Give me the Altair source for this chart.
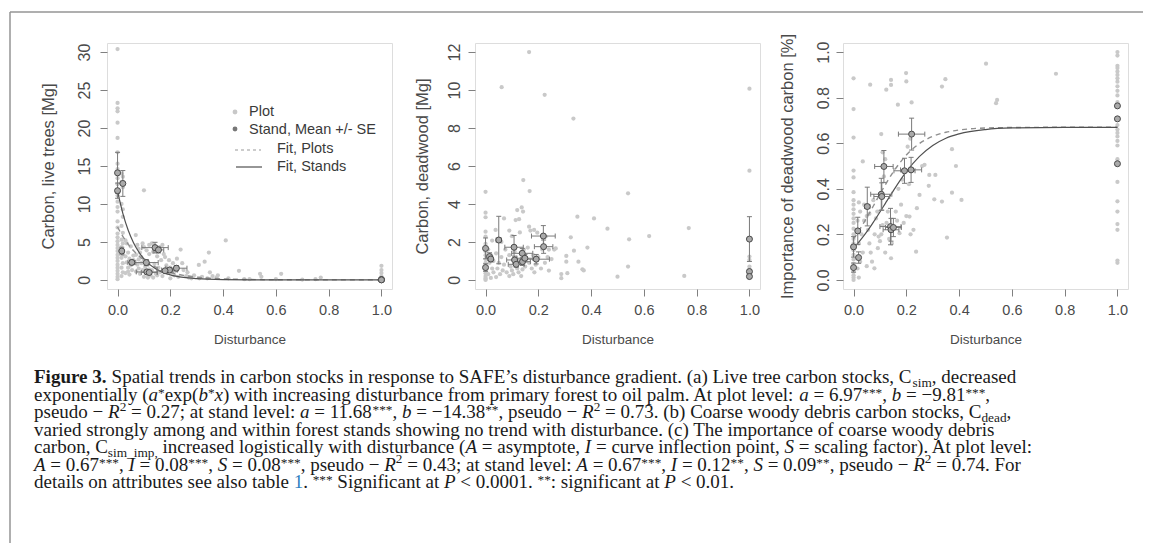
import altair as alt
import pandas as pd

# ---------------- data ----------------
X_TICKS = [0.0, 0.2, 0.4, 0.6, 0.8, 1.0]

# (a) live trees: plot-level points (disturbance, carbon Mg)
LIVE_PLOTS = [
    (0, 30.4), (0, 23.3), (0, 22.6), (0, 22.2), (0, 20.7), (0, 18.7), (0, 16.8), (0, 15.3), (0, 14.6), (0, 13.4),
    (0, 12.6), (0, 11.1), (0, 10.3), (0, 9.6), (0, 9.0), (0, 7.7), (0, 6.9), (0, 6.1), (0, 5.6), (0, 5.1),
    (0, 4.6), (0, 4.2), (0, 3.8), (0, 3.3), (0, 2.9), (0, 2.5), (0, 2.0), (0, 1.6), (0, 1.2), (0, 0.8), (0, 0.4), (0, 0.1),
    (0.015, 14.0), (0.02, 13.6), (0.015, 12.9), (0.02, 12.2), (0.015, 10.0), (0.02, 9.3), (0.02, 8.3), (0.015, 7.1),
    (0.02, 6.2), (0.015, 5.3), (0.02, 4.8), (0.015, 4.3), (0.02, 3.4), (0.015, 2.9), (0.02, 2.2), (0.015, 1.6),
    (0.02, 1.0), (0.015, 0.5),
    (0.03, 5.2), (0.035, 4.8), (0.04, 3.6), (0.03, 3.1), (0.045, 2.8), (0.035, 2.3), (0.05, 1.9), (0.04, 1.6),
    (0.055, 1.3), (0.03, 0.9), (0.045, 0.7), (0.06, 3.2), (0.05, 4.4), (0.06, 2.6), (0.04, 1.1),
    (0.069, 5.9), (0.075, 4.6), (0.07, 3.3), (0.08, 2.7), (0.075, 2.0), (0.08, 1.5), (0.07, 1.1), (0.085, 0.8),
    (0.08, 4.1), (0.085, 3.6),
    (0.1, 11.8), (0.095, 4.8), (0.1, 4.3), (0.11, 3.9), (0.12, 3.4), (0.09, 3.0), (0.1, 2.6), (0.115, 2.0),
    (0.105, 1.7), (0.12, 1.4), (0.095, 1.3), (0.11, 0.9), (0.125, 0.6), (0.1, 0.4), (0.115, 0.3), (0.09, 2.2), (0.12, 4.6),
    (0.13, 4.8), (0.14, 4.5), (0.16, 4.3), (0.17, 4.6), (0.135, 3.7), (0.15, 3.1), (0.165, 2.6), (0.14, 2.1),
    (0.155, 1.6), (0.13, 1.3), (0.16, 1.0), (0.145, 0.8), (0.17, 0.5), (0.135, 0.3), (0.15, 0.6), (0.175, 3.4),
    (0.18, 3.0), (0.195, 2.6), (0.21, 2.2), (0.185, 1.9), (0.2, 1.6), (0.22, 1.2), (0.19, 0.9), (0.215, 0.6),
    (0.2, 0.2), (0.225, 2.8), (0.205, 1.0), (0.23, 0.4),
    (0.239, 4.0), (0.245, 2.2), (0.25, 1.3), (0.26, 0.5), (0.27, 0.3), (0.28, 0.2), (0.29, 0.6), (0.265, 1.0),
    (0.308, 1.97), (0.33, 2.4), (0.346, 3.6), (0.32, 0.4), (0.34, 0.2), (0.36, 0.5), (0.375, 0.3), (0.38, 0.6),
    (0.35, 1.0), (0.31, 0.2),
    (0.41, 5.2), (0.46, 1.2), (0.54, 0.8), (0.545, 0.4), (0.62, 0.8), (0.5, 0.1), (0.75, 0.1), (0.77, 0.3),
    (0.42, 0.2), (0.48, 0.1), (0.6, 0.1), (0.7, 0.05),
    (1.0, 1.85), (1.0, 1.3), (1.0, 0.9), (1.0, 0.45), (1.0, 0.2), (1.0, 0.1), (1.0, 0.05), (1.0, 0.0), (1.0, 0.3),
]
# stand means: x, x SE, y, y SE
LIVE_STAND_X = [0.0, 0.0, 0.02, 0.016, 0.054, 0.109, 0.142, 0.155, 0.111, 0.12, 0.197, 0.223, 0.18, 1.0, 1.0, 1.0]
LIVE_STAND_XSE = [0, 0, 0.005, 0.005, 0.015, 0.045, 0.05, 0.02, 0.04, 0.03, 0.03, 0.04, 0.03, 0, 0, 0]
LIVE_STAND_Y = [14.1, 11.75, 12.7, 3.8, 2.3, 2.28, 4.25, 3.95, 1.05, 0.97, 1.3, 1.54, 1.2, 0.05, 0.02, 0.0]
LIVE_STAND_YSE = [2.7, 1.0, 1.7, 0.5, 0.3, 0.4, 0.7, 0.4, 0.25, 0.2, 0.3, 0.35, 0.2, 0, 0, 0]
LIVE_FIT_X = [0, 0.02, 0.04, 0.06, 0.08, 0.10, 0.12, 0.15, 0.20, 0.25, 0.30, 0.40, 0.50, 0.60, 0.80, 1.00]
LIVE_FIT_PLOTS = [6.97, 5.73, 4.71, 3.87, 3.18, 2.61, 2.15, 1.60, 0.98, 0.60, 0.37, 0.14, 0.05, 0.02, 0.003, 0.0]
LIVE_FIT_STANDS = [11.68, 8.76, 6.57, 4.93, 3.70, 2.77, 2.08, 1.35, 0.66, 0.32, 0.16, 0.04, 0.01, 0.002, 0.0, 0.0]

# (b) deadwood
DEAD_PLOTS = [
    (0.165, 12.0), (0.061, 10.15), (0.224, 9.75), (0.333, 8.5), (1.0, 10.07), (1.0, 5.75), (0.143, 5.26),
    (0.167, 4.68), (0.0, 4.64), (0.54, 4.56), (0.0, 3.54), (0.0, 3.3), (0.12, 3.68), (0.137, 3.82), (0.142, 3.6),
    (0.114, 3.15), (0.127, 3.2), (0.348, 3.33), (0.411, 3.24), (0.462, 2.7), (0.77, 2.73), (0.62, 2.31),
    (0.544, 2.14), (0.323, 2.24), (0.386, 1.7), (0.266, 1.66), (0.306, 1.26), (0.306, 0.96), (0.335, 1.54),
    (0.352, 0.96), (0.367, 0.56), (0.372, 0.5), (0.31, 0.35), (0.287, 0.31), (0.287, 0.09), (0.24, 0.49),
    (0.54, 0.7), (0.5, 0.17), (0.753, 0.21), (1.0, 1.23), (1.0, 1.05), (1.0, 0.7), (1.0, 0.56), (1.0, 0.39),
    (1.0, 0.09), (0.184, 2.63), (0.196, 2.49), (0.165, 2.8), (0.228, 2.28), (0.038, 2.63), (0.025, 2.07),
    (0.07, 3.24), (0.0, 2.54), (0.0, 2.28), (0.09, 2.6),
    (0.0, 1.9), (0.0, 1.5), (0.0, 1.3), (0.0, 1.1), (0.0, 0.9), (0.0, 0.7), (0.0, 0.5), (0.0, 0.35), (0.0, 0.2),
    (0.0, 0.1), (0.0, 0.05), (0.0, 0.0),
    (0.01, 1.6), (0.02, 1.3), (0.015, 0.9), (0.025, 0.6), (0.01, 0.3), (0.02, 0.1), (0.03, 1.0), (0.03, 0.4),
    (0.04, 1.4), (0.05, 0.9), (0.045, 0.6), (0.06, 1.2), (0.065, 0.5), (0.055, 0.3), (0.07, 0.8), (0.075, 1.6),
    (0.08, 0.4), (0.04, 0.15), (0.06, 2.0),
    (0.09, 1.3), (0.095, 0.7), (0.1, 0.5), (0.105, 0.3), (0.11, 1.5), (0.12, 0.6), (0.125, 0.4), (0.13, 0.9),
    (0.135, 0.2), (0.14, 0.55), (0.145, 1.6), (0.15, 0.7), (0.09, 0.2), (0.1, 2.3), (0.13, 2.5),
    (0.16, 1.7), (0.165, 0.9), (0.17, 2.6), (0.175, 0.6), (0.18, 1.3), (0.185, 0.4), (0.19, 0.8), (0.2, 1.2),
    (0.21, 0.6), (0.215, 1.6), (0.225, 0.9), (0.235, 1.2), (0.24, 1.6), (0.25, 1.1), (0.26, 1.6),
]
DEAD_STAND_X = [0.0, 0.0, 0.015, 0.02, 0.05, 0.108, 0.11, 0.116, 0.139, 0.14, 0.149, 0.192, 0.219, 0.22, 1.0, 1.0, 1.0]
DEAD_STAND_XSE = [0, 0, 0.005, 0.005, 0.01, 0.035, 0.03, 0.03, 0.04, 0.03, 0.03, 0.05, 0.045, 0.035, 0, 0, 0]
DEAD_STAND_Y = [1.66, 0.65, 1.23, 1.1, 2.1, 1.72, 1.05, 0.82, 1.4, 0.96, 1.14, 1.09, 2.31, 1.75, 2.15, 0.44, 0.18]
DEAD_STAND_YSE = [0.55, 0.2, 0.2, 0.15, 1.25, 0.62, 0.2, 0.15, 0.25, 0.2, 0.2, 0.25, 0.55, 0.35, 1.18, 0.1, 0.05]

# (c) importance of deadwood carbon
IMP_PLOTS = [
    (0, 0.885), (0, 0.75), (0, 0.625), (0, 0.48), (0, 0.45), (0, 0.385), (0, 0.35), (0, 0.33), (0, 0.31), (0, 0.29),
    (0, 0.27), (0, 0.25), (0, 0.225), (0, 0.2), (0, 0.18), (0, 0.16), (0, 0.13), (0, 0.11), (0, 0.09), (0, 0.07),
    (0, 0.05), (0, 0.035), (0, 0.02), (0, 0.01), (0, 0.0),
    (0.035, 0.52), (0.02, 0.34), (0.025, 0.3), (0.015, 0.26), (0.03, 0.2), (0.02, 0.16), (0.035, 0.12),
    (0.025, 0.08), (0.015, 0.05), (0.02, 0.01), (0.04, 0.33), (0.04, 0.26),
    (0.063, 0.857), (0.05, 0.28), (0.055, 0.22), (0.06, 0.16), (0.065, 0.12), (0.07, 0.08), (0.079, 0.051),
    (0.08, 0.2), (0.085, 0.27), (0.092, 0.139), (0.095, 0.19), (0.05, 0.06), (0.06, 0.29), (0.075, 0.35), (0.09, 0.3),
    (0.105, 0.64), (0.115, 0.454), (0.124, 0.835), (0.142, 0.878), (0.142, 0.856), (0.1, 0.17), (0.105, 0.2),
    (0.11, 0.56), (0.12, 0.12), (0.125, 0.25), (0.13, 0.3), (0.135, 0.18), (0.142, 0.095), (0.145, 0.16),
    (0.11, 0.24), (0.12, 0.53),
    (0.168, 0.769), (0.199, 0.908), (0.2, 0.871), (0.22, 0.779), (0.205, 0.585), (0.174, 0.205), (0.16, 0.3),
    (0.165, 0.26), (0.18, 0.33), (0.19, 0.25), (0.2, 0.28), (0.212, 0.278), (0.216, 0.2), (0.227, 0.22),
    (0.17, 0.4), (0.185, 0.44), (0.21, 0.42), (0.215, 0.62),
    (0.237, 0.124), (0.24, 0.315), (0.25, 0.373), (0.269, 0.505), (0.285, 0.413), (0.287, 0.461), (0.31, 0.461),
    (0.306, 0.354), (0.335, 0.344), (0.373, 0.383), (0.409, 0.351), (0.354, 0.186), (0.388, 0.5), (0.373, 0.574),
    (0.335, 0.849), (0.348, 0.881), (0.26, 0.5),
    (0.502, 0.949), (0.54, 0.776), (0.544, 0.79), (0.767, 0.905),
    (1.0, 1.0), (1.0, 0.985), (1.0, 0.94), (1.0, 0.93), (1.0, 0.915), (1.0, 0.9), (1.0, 0.885), (1.0, 0.87),
    (1.0, 0.85), (1.0, 0.83), (1.0, 0.81), (1.0, 0.78), (1.0, 0.76), (1.0, 0.68), (1.0, 0.66), (1.0, 0.645),
    (1.0, 0.63), (1.0, 0.61), (1.0, 0.59), (1.0, 0.53), (1.0, 0.43), (1.0, 0.345), (1.0, 0.3), (1.0, 0.245),
    (1.0, 0.22), (1.0, 0.085), (1.0, 0.075),
]
IMP_STAND_X = [0.0, 0.0, 0.016, 0.019, 0.052, 0.105, 0.107, 0.115, 0.14, 0.142, 0.151, 0.193, 0.218, 0.22, 1.0, 1.0, 1.0]
IMP_STAND_XSE = [0, 0, 0.005, 0.005, 0.01, 0.04, 0.03, 0.035, 0.04, 0.03, 0.03, 0.04, 0.04, 0.05, 0, 0, 0]
IMP_STAND_Y = [0.145, 0.054, 0.215, 0.098, 0.322, 0.376, 0.366, 0.498, 0.234, 0.22, 0.23, 0.479, 0.483, 0.64, 0.764, 0.707, 0.51]
IMP_STAND_YSE = [0.045, 0.02, 0.06, 0.025, 0.085, 0.07, 0.06, 0.07, 0.08, 0.05, 0.04, 0.055, 0.055, 0.07, 0, 0, 0]
IMP_FIT_X = [0, 0.02, 0.04, 0.06, 0.08, 0.10, 0.12, 0.15, 0.20, 0.25, 0.30, 0.35, 0.40, 0.50, 0.60, 0.80, 1.00]
IMP_FIT_PLOTS = [0.180, 0.215, 0.253, 0.293, 0.335, 0.377, 0.417, 0.473, 0.548, 0.599, 0.630, 0.648, 0.658, 0.667, 0.669, 0.670, 0.670]
IMP_FIT_STANDS = [0.140, 0.166, 0.195, 0.227, 0.262, 0.298, 0.335, 0.390, 0.475, 0.542, 0.590, 0.622, 0.641, 0.660, 0.667, 0.670, 0.670]

LEGEND_LABELS = ["Plot", "Stand, Mean +/- SE", "Fit, Plots", "Fit, Stands"]

CAPTION_LINES = [
    [("b", "Figure 3."), ("r", " Spatial trends in carbon stocks in response to SAFE’s disturbance gradient. (a) Live tree carbon stocks, C"),
     ("sub", "sim"), ("r", ", decreased")],
    [("r", "exponentially ("), ("i", "a"), ("ast", "*"), ("r", "exp("), ("i", "b"), ("ast", "*"), ("i", "x"),
     ("r", ") with increasing disturbance from primary forest to oil palm. At plot level: "), ("i", "a"),
     ("r", " = 6.97"), ("ast", "***"), ("r", ", "), ("i", "b"), ("r", " = −9.81"), ("ast", "***"), ("r", ",")],
    [("r", "pseudo − "), ("i", "R"), ("sup", "2"), ("r", " = 0.27; at stand level: "), ("i", "a"), ("r", " = 11.68"),
     ("ast", "***"), ("r", ", "), ("i", "b"), ("r", " = −14.38"), ("ast", "**"), ("r", ", pseudo − "), ("i", "R"),
     ("sup", "2"), ("r", " = 0.73. (b) Coarse woody debris carbon stocks, C"), ("sub", "dead"), ("r", ",")],
    [("r", "varied strongly among and within forest stands showing no trend with disturbance. (c) The importance of coarse woody debris")],
    [("r", "carbon, C"), ("sub", "sim_imp,"), ("r", " increased logistically with disturbance ("), ("i", "A"),
     ("r", " = asymptote, "), ("i", "I"), ("r", " = curve inflection point, "), ("i", "S"),
     ("r", " = scaling factor). At plot level:")],
    [("i", "A"), ("r", " = 0.67"), ("ast", "***"), ("r", ", "), ("i", "I"), ("r", " = 0.08"), ("ast", "***"), ("r", ", "),
     ("i", "S"), ("r", " = 0.08"), ("ast", "***"), ("r", ", pseudo − "), ("i", "R"), ("sup", "2"),
     ("r", " = 0.43; at stand level: "), ("i", "A"), ("r", " = 0.67"), ("ast", "***"), ("r", ", "), ("i", "I"),
     ("r", " = 0.12"), ("ast", "**"), ("r", ", "), ("i", "S"), ("r", " = 0.09"), ("ast", "**"), ("r", ", pseudo − "),
     ("i", "R"), ("sup", "2"), ("r", " = 0.74. For")],
    [("r", "details on attributes see also table "), ("link", "1"), ("r", ". "), ("ast", "***"), ("r", " Significant at "),
     ("i", "P"), ("r", " < 0.0001. "), ("ast", "**"), ("r", ": significant at "), ("i", "P"), ("r", " < 0.01.")],
]

# ---------------- styling ----------------
SANS = "Liberation Sans"
SERIF = "Liberation Serif"
AX_COL = "#4a4a4a"
BOX_COL = "#808080"
W, H = 285, 246
X_DOM = [-0.04, 1.04]

# Times (Liberation Serif) advance widths, per 1000 em
TR = {" ": 250, "(": 333, ")": 333, "*": 500, ",": 250, "-": 333, ".": 250, "/": 278, ":": 278, ";": 278,
      "<": 564, "=": 564, "_": 500, "’": 333, "−": 564, "+": 564}
TR.update({d: 500 for d in "0123456789"})
TR.update(dict(zip("ABCDEFGHIJKLMNOPQRSTUVWXYZ",
                   [722, 667, 667, 722, 611, 556, 722, 722, 333, 389, 722, 611, 889, 722, 722, 556, 722, 667, 556,
                    611, 722, 722, 944, 722, 722, 611])))
TR.update(dict(zip("abcdefghijklmnopqrstuvwxyz",
                   [444, 500, 444, 500, 444, 333, 500, 500, 278, 278, 500, 278, 778, 500, 500, 500, 500, 333, 389,
                    278, 500, 500, 722, 500, 500, 444])))
TB = {"F": 611, "i": 278, "g": 500, "u": 556, "r": 444, "e": 444, " ": 250, "3": 500, ".": 250}
TI = {"a": 500, "b": 500, "x": 444, "R": 611, "A": 611, "I": 333, "S": 500, "P": 611, " ": 250}

CAP_FS = 19.0
CAP_X0 = 32 - 105      # relative to panel (a) plot origin
CAP_Y0 = 383.3 - 43
CAP_LH = 17.45


def caption_df():
    rows = []
    for i, line in enumerate(CAPTION_LINES):
        x = CAP_X0
        base = CAP_Y0 + i * CAP_LH
        for style, text in line:
            small = style in ("sub", "sup", "ast")
            fs = CAP_FS * (0.7 if small else 1.0)
            table = TB if style == "b" else (TI if style == "i" else TR)
            stripped = text.lstrip(" ")
            lead = (len(text) - len(stripped)) * 0.25 * fs
            w = sum(table.get(c, 500) for c in text) / 1000 * fs
            dy = {"sub": 0.22, "sup": -0.38, "ast": -0.2}.get(style, 0.0) * CAP_FS
            kind = "b" if style == "b" else ("i" if style == "i" else "r")
            rows.append(dict(px=x + lead, py=base + dy, fs=fs, t=stripped, kind=kind,
                             col="#2f7fc1" if style == "link" else "#1a1a1a"))
            x += w
    return pd.DataFrame(rows)


def x_axis():
    return alt.Axis(values=X_TICKS, format=".1f", title="Disturbance", grid=False, domain=False,
                    tickSize=7, tickColor=BOX_COL, tickWidth=1, labelFontSize=14.5, labelColor=AX_COL,
                    labelPadding=7, labelFont=SANS, labelFlush=False, labelOverlap=False,
                    titleFont=SANS, titleFontSize=13.5, titleFontWeight="normal", titleColor=AX_COL,
                    titlePadding=15, minExtent=28, maxExtent=28)


def y_axis(vals, fmt, title, lab_pad, title_pad):
    return alt.Axis(values=vals, format=fmt, title=title, grid=False, domain=False,
                    tickSize=7, tickColor=BOX_COL, tickWidth=1, labelAngle=270, labelAlign="center",
                    labelBaseline="middle", labelPadding=lab_pad, labelFontSize=16, labelColor=AX_COL,
                    labelFont=SANS, labelFlush=False, labelOverlap=False,
                    titleFont=SANS, titleFontSize=16.5, titleFontWeight="normal", titleColor=AX_COL,
                    titlePadding=title_pad, minExtent=30, maxExtent=30)


def panel(plots, sx, sxse, sy, syse, fitx, fitp, fits, ydom, yvals, yfmt, ytitle, lab_pad, title_pad, extra=()):
    xs = alt.Scale(domain=X_DOM, nice=False, zero=False)
    ys = alt.Scale(domain=ydom, nice=False, zero=False)
    xa = x_axis()
    ya = y_axis(yvals, yfmt, ytitle, lab_pad, title_pad)
    dp = pd.DataFrame(plots, columns=["x", "y"])
    st = pd.DataFrame({"x": sx, "xse": sxse, "y": sy, "yse": syse})
    st["xlo"], st["xhi"] = st.x - st.xse, st.x + st.xse
    st["ylo"], st["yhi"] = st.y - st.yse, st.y + st.yse
    vb = st[st.yse > 0]
    hb = st[st.xse > 0]
    vcap = pd.concat([vb.assign(cy=vb.ylo), vb.assign(cy=vb.yhi)])
    hcap = pd.concat([hb.assign(cx=hb.xlo), hb.assign(cx=hb.xhi)])
    fd = pd.DataFrame({"x": fitx, "p": fitp, "s": fits})

    X = lambda f: alt.X(f, type="quantitative", scale=xs, axis=xa)
    Y = lambda f: alt.Y(f, type="quantitative", scale=ys, axis=ya)

    pts = alt.Chart(dp).mark_circle(size=18, color="#c9c9c9", opacity=1).encode(x=X("x"), y=Y("y"))
    layers = [pts]
    if len(fd):
        layers.append(alt.Chart(fd).mark_line(color="#8f8f8f", strokeWidth=1.4, strokeDash=[5, 4],
                                              interpolate="monotone").encode(x=X("x"), y=Y("p")))
        layers.append(alt.Chart(fd).mark_line(color="#505050", strokeWidth=1.2,
                                              interpolate="monotone").encode(x=X("x"), y=Y("s")))
    layers += [
        alt.Chart(vb).mark_rule(color="#7a7a7a", strokeWidth=1).encode(x=X("x"), y=Y("ylo"), y2="yhi"),
        alt.Chart(hb).mark_rule(color="#7a7a7a", strokeWidth=1).encode(x=X("xlo"), x2="xhi", y=Y("y")),
        alt.Chart(vcap).mark_rule(color="#7a7a7a", strokeWidth=1, xOffset=-2.5, x2Offset=2.5).encode(
            x=X("x"), x2="x", y=Y("cy")),
        alt.Chart(hcap).mark_rule(color="#7a7a7a", strokeWidth=1, yOffset=-2.5, y2Offset=2.5).encode(
            x=X("cx"), y=Y("y"), y2="y"),
        alt.Chart(st).mark_circle(size=36, color="#aaaaaa", stroke="#4a4a4a", strokeWidth=1, opacity=1).encode(
            x=X("x"), y=Y("y")),
    ]
    return alt.layer(*layers, *extra).properties(width=W, height=H)


# ---------- legend, frame and caption (drawn inside panel a) ----------
PX = lambda f: alt.X(f, type="quantitative", scale=None, axis=None)
PY = lambda f: alt.Y(f, type="quantitative", scale=None, axis=None)

leg_dots = pd.DataFrame({"px": [128, 128], "py": [69, 86], "c": ["#c8c8c8", "#777777"]})
leg_text = pd.DataFrame({"px": [142, 142, 170, 170], "py": [69, 87, 106, 124], "t": LEGEND_LABELS})
leg_lines = pd.DataFrame({"px": [128, 129], "px2": [154, 155], "py": [107, 124], "k": ["d", "s"]})

legend_layers = [
    alt.Chart(leg_dots).mark_circle(size=24, opacity=1).encode(
        x=PX("px"), y=PY("py"), color=alt.Color("c:N", scale=None)),
    alt.Chart(leg_text).mark_text(align="left", baseline="middle", font=SANS, fontSize=14.5, color="#3a3a3a").encode(
        x=PX("px"), y=PY("py"), text="t:N"),
    alt.Chart(leg_lines[leg_lines.k == "d"]).mark_rule(color="#9a9a9a", strokeWidth=1.2, strokeDash=[3, 3]).encode(
        x=PX("px"), x2="px2", y=PY("py")),
    alt.Chart(leg_lines[leg_lines.k == "s"]).mark_rule(color="#505050", strokeWidth=1.2).encode(
        x=PX("px"), x2="px2", y=PY("py")),
]

frame_layers = [
    alt.Chart(pd.DataFrame({"a": [0]})).mark_rule(color="#959595", strokeWidth=1.5).encode(
        x=alt.value(-97), y=alt.value(-31), y2=alt.value(500)),
    alt.Chart(pd.DataFrame({"a": [0]})).mark_rule(color="#959595", strokeWidth=1.5).encode(
        x=alt.value(-97), x2=alt.value(1036), y=alt.value(-31)),
]

cap = caption_df()
caption_layers = []
for kind, kw in [("r", {}), ("b", {"fontWeight": "bold"}), ("i", {"fontStyle": "italic"})]:
    sub = cap[cap.kind == kind]
    caption_layers.append(
        alt.Chart(sub).mark_text(align="left", baseline="alphabetic", font=SERIF, **kw).encode(
            x=PX("px"), y=PY("py"), text="t:N", size=alt.Size("fs:Q", scale=None),
            color=alt.Color("col:N", scale=None)))

p1 = panel(LIVE_PLOTS, LIVE_STAND_X, LIVE_STAND_XSE, LIVE_STAND_Y, LIVE_STAND_YSE,
           LIVE_FIT_X, LIVE_FIT_PLOTS, LIVE_FIT_STANDS, [-1.2, 31.2], [0, 5, 10, 15, 20, 25, 30], ".0f",
           "Carbon, live trees [Mg]", 16, 20.5, extra=legend_layers + frame_layers + caption_layers)
p2 = panel(DEAD_PLOTS, DEAD_STAND_X, DEAD_STAND_XSE, DEAD_STAND_Y, DEAD_STAND_YSE,
           [], [], [], [-0.48, 12.48], [0, 2, 4, 6, 8, 10, 12], ".0f",
           "Carbon, deadwood [Mg]", 14, 15)
p3 = panel(IMP_PLOTS, IMP_STAND_X, IMP_STAND_XSE, IMP_STAND_Y, IMP_STAND_YSE,
           IMP_FIT_X, IMP_FIT_PLOTS, IMP_FIT_STANDS, [-0.04, 1.04], [0.0, 0.2, 0.4, 0.6, 0.8, 1.0], ".1f",
           "Importance of deadwood carbon [%]", 13, 17.5)

chart = alt.HConcatChart(hconcat=[p1, p2, p3], spacing=83, bounds="flush").properties(
    padding={"left": 0, "top": 2, "right": 0, "bottom": 0}
).configure_view(stroke=BOX_COL, strokeWidth=1.2).configure(background="white")

chart.save("out.html", embed_options={"renderer": "svg", "actions": False})
